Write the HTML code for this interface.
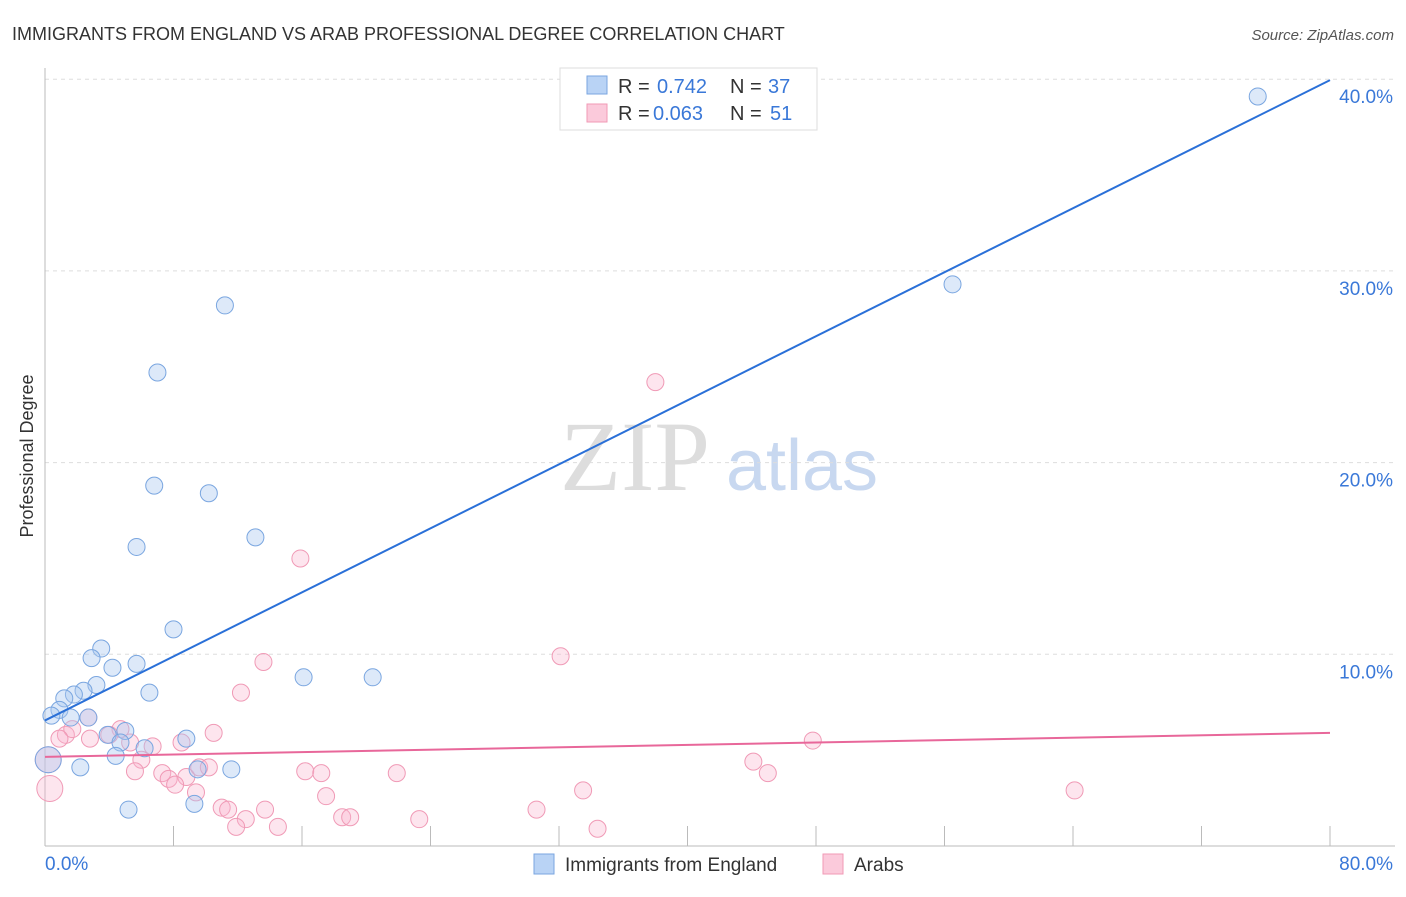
<!DOCTYPE html>
<html><head><meta charset="utf-8"><style>
body{margin:0;background:#fff;font-family:"Liberation Sans",sans-serif;}
svg text{font-family:"Liberation Sans",sans-serif;}
</style></head><body>
<svg id="chart" width="1406" height="892">
<text x="12" y="40" font-size="18" fill="#333">IMMIGRANTS FROM ENGLAND VS ARAB PROFESSIONAL DEGREE CORRELATION CHART</text>
<text x="1394" y="40" font-size="15" fill="#555" font-style="italic" text-anchor="end">Source: ZipAtlas.com</text>
<text x="33" y="456" font-size="18" fill="#333" transform="rotate(-90 33 456)" text-anchor="middle">Professional Degree</text>
<g><text x="635" y="490" font-size="100" fill="#ddd" style="font-family:'Liberation Serif',serif" text-anchor="middle">ZIP</text><text x="802" y="490" font-size="72" fill="#c8d8f0" text-anchor="middle">atlas</text></g>
<g id="grid"></g><g id="axes"></g><g id="pts"></g><g id="lines"></g>
<g>
<rect x="560" y="68" width="257" height="62" fill="#fff" stroke="#ddd"/>
<rect x="587" y="76" width="20" height="18" fill="#b9d3f5" stroke="#7aa6e0"/>
<rect x="587" y="104" width="20" height="18" fill="#fbcadb" stroke="#f09ab6"/>
<text x="618" y="93" font-size="20" fill="#333">R = <tspan x="657" fill="#3a78d8">0.742</tspan></text>
<text x="730" y="93" font-size="20" fill="#333">N = <tspan x="768" fill="#3a78d8">37</tspan></text>
<text x="618" y="120" font-size="20" fill="#333">R = <tspan x="653" fill="#3a78d8">0.063</tspan></text>
<text x="730" y="120" font-size="20" fill="#333">N = <tspan x="770" fill="#3a78d8">51</tspan></text>
</g>
<g>
<rect x="534" y="854" width="20" height="20" fill="#b9d3f5" stroke="#7aa6e0"/>
<text x="565" y="871" font-size="19" fill="#333">Immigrants from England</text>
<rect x="823" y="854" width="20" height="20" fill="#fbcadb" stroke="#f09ab6"/>
<text x="854" y="871" font-size="19" fill="#333">Arabs</text>
</g>
</svg>
<script>
const yTicks=[10,20,30,40];
const yTickLabels=["10.0%","20.0%","30.0%","40.0%"];
const xTicks=[0,8,16,24,32,40,48,56,64,72,80];
const blueX=[75.5,56.5,11.2,7.0,6.8,10.2,5.7,13.1,8.0,3.5,2.9,4.2,5.7,3.2,2.4,1.8,1.2,6.5,16.1,20.4,0.9,0.4,1.6,2.7,5.0,3.9,4.7,8.8,6.2,4.4,0.2,2.2,9.5,11.6,9.3,5.2];
const blueY=[39.1,29.3,28.2,24.7,18.8,18.4,15.6,16.1,11.3,10.3,9.8,9.3,9.5,8.4,8.1,7.9,7.7,8.0,8.8,8.8,7.1,6.8,6.7,6.7,6.0,5.8,5.4,5.6,5.1,4.7,4.5,4.1,4.0,4.0,2.2,1.9];
const pinkX=[38.0,15.9,32.1,13.6,12.2,2.7,10.5,47.8,1.3,1.7,2.8,4.7,4.0,5.3,6.7,8.5,0.9,0.2,6.0,44.1,45.0,5.6,7.3,7.7,8.8,9.6,10.2,16.2,17.2,21.9,8.1,9.4,17.5,33.5,64.1,0.3,11.0,11.4,13.7,30.6,12.5,18.5,19.0,23.3,11.9,14.5,34.4];
const pinkY=[24.2,15.0,9.9,9.6,8.0,6.7,5.9,5.5,5.8,6.1,5.6,6.1,5.8,5.4,5.2,5.4,5.6,4.5,4.5,4.4,3.8,3.9,3.8,3.5,3.6,4.1,4.1,3.9,3.8,3.8,3.2,2.8,2.6,2.9,2.9,3.0,2.0,1.9,1.9,1.9,1.4,1.5,1.5,1.4,1.0,1.0,0.9];
const blueLine=[6.55,39.95];
const pinkLine=[4.65,5.9];
const X=v=>45+v*1285/80, Y=v=>846-v*19.17;
const NS="http://www.w3.org/2000/svg";
function mk(t,a,p){const e=document.createElementNS(NS,t);for(const k in a)e.setAttribute(k,a[k]);p.appendChild(e);return e;}
const g=document.getElementById('grid'),ax=document.getElementById('axes'),pts=document.getElementById('pts'),ln=document.getElementById('lines');
yTicks.forEach((t,i)=>{
 const l=mk('line',{x1:45,x2:1395,y1:Y(t),y2:Y(t),stroke:'#ddd','stroke-dasharray':'4,4'},g);
 
 
 const tx=mk('text',{x:1393,y:Y(t)+24,'font-size':19,fill:'#3a78d8','text-anchor':'end'},ax);tx.textContent=yTickLabels[i];
 
 
});
const al=mk('line',{x1:45,x2:45,y1:68,y2:846,stroke:'#bbb'},ax);


const bl=mk('line',{x1:45,x2:1395,y1:846,y2:846,stroke:'#bbb'},ax);


xTicks.forEach(t=>{const l=mk('line',{x1:X(t),x2:X(t),y1:826,y2:846,stroke:'#bbb'},ax);
 
 });
let t1=mk('text',{x:45,y:870,'font-size':19,fill:'#3a78d8'},ax);t1.textContent='0.0%';


let t2=mk('text',{x:1393,y:870,'font-size':19,fill:'#3a78d8','text-anchor':'end'},ax);t2.textContent='80.0%';


pinkX.forEach((x,i)=>{const c=mk('circle',{cx:X(x),cy:Y(pinkY[i]),r:(x<0.5?13:8.5),fill:'rgba(248,180,205,0.35)',stroke:'#f09ab6','stroke-width':1},pts);
 
 });
blueX.forEach((x,i)=>{const c=mk('circle',{cx:X(x),cy:Y(blueY[i]),r:(x<0.3?13:8.5),fill:'rgba(170,200,240,0.4)',stroke:'#7aa6e0','stroke-width':1},pts);
 
 });
const b=mk('line',{x1:X(0),y1:Y(blueLine[0]),x2:X(80),y2:Y(blueLine[1]),stroke:'#2a70d8','stroke-width':2},ln);


const p=mk('line',{x1:X(0),y1:Y(pinkLine[0]),x2:X(80),y2:Y(pinkLine[1]),stroke:'#e8679a','stroke-width':2},ln);


</script>
</body></html>
